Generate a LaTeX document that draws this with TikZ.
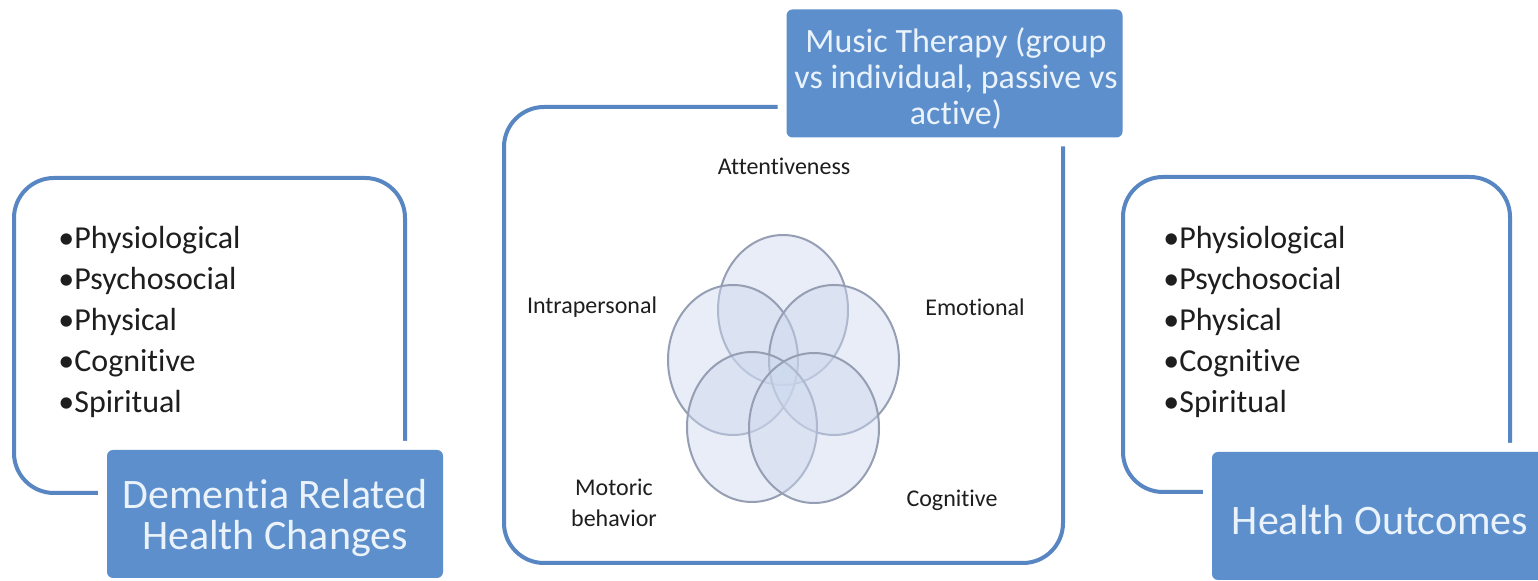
\documentclass[tikz,border=0pt]{standalone}
\usepackage{fontspec}
\setmainfont{Carlito}[Ligatures={NoCommon}]
\usetikzlibrary{shapes.geometric}
\definecolor{frameblue}{RGB}{88,134,194}
\definecolor{boxblue}{RGB}{92,143,203}
\definecolor{boxtext}{RGB}{234,242,251}
\definecolor{venfill}{RGB}{205,217,238}
\definecolor{venline}{RGB}{150,158,180}
\definecolor{bodytext}{RGB}{30,30,30}
\tikzset{
  frame/.style={draw=frameblue, line width=2pt, rounded corners=20pt},
  titlebox/.style={fill=boxblue, rounded corners=3pt,
    minimum width=168pt, minimum height=64pt, inner sep=0pt,
    preaction={draw=white, line width=9pt, rounded corners=3pt}},
  titletext/.style={text=boxtext, align=center, inner sep=0pt},
  bigtitle/.style={titletext, font=\fontsize{21}{20.5}\selectfont},
  smalltitle/.style={titletext, font=\fontsize{17}{18}\selectfont},
  bullets/.style={align=left, anchor=west, text=bodytext, inner sep=0pt,
    font=\fontsize{16}{20.5}\selectfont},
  circ/.style={ellipse, draw=venline, line width=1pt, fill=venfill,
    fill opacity=0.45, minimum width=65pt, minimum height=75pt, inner sep=0pt},
  vlabel/.style={text=bodytext, align=center, inner sep=0pt,
    font=\fontsize{12}{15.5}\selectfont}
}
\begin{document}
\begin{tikzpicture}[x=0.5pt, y=-0.5pt]
  \useasboundingbox (0,0) rectangle (1538,581);
  \clip (0,0) rectangle (1538,581);
  \fill[white] (0,0) rectangle (1538,581);

  % left panel
  \draw[frame] (14,178) rectangle (405,493);
  \node[bullets] (lefttxt) at (58,322)
    {•Physiological\\•Psychosocial\\•Physical\\•Cognitive\\•Spiritual};
  \node[titlebox] (dementia) at (275,514) {};
  \node[bigtitle] (dementiatxt) at (275,518) {Dementia Related\\Health Changes};

  % middle panel
  \draw[frame] (504,107) rectangle (1063,563);
  \node[titlebox] (music) at (954.5,73.5) {};
  \node[smalltitle] (musictxt) at (956,78)
    {Music Therapy (group\\vs individual, passive vs\\active)};

  % five overlapping domains
  \node[circ] (c1) at (783,310) {};
  \node[circ] (c2) at (733,360) {};
  \node[circ] (c3) at (834,360) {};
  \node[circ] (c4) at (752,427) {};
  \node[circ] (c5) at (814,428) {};

  \node[vlabel] (l1) at (784,166) {Attentiveness};
  \node[vlabel] (l2) at (592,307) {Intrapersonal};
  \node[vlabel] (l3) at (975,307) {Emotional};
  \node[vlabel] (l4) at (614,503) {Motoric\\behavior};
  \node[vlabel] (l5) at (952,500) {Cognitive};

  % right panel
  \draw[frame] (1123,177) rectangle (1510,492);
  \node[bullets] (righttxt) at (1163,322)
    {•Physiological\\•Psychosocial\\•Physical\\•Cognitive\\•Spiritual};
  \node[titlebox] (outcomes) at (1380,516) {};
  \node[bigtitle] (outcomestxt) at (1380,520) {Health Outcomes};
\end{tikzpicture}
\end{document}
